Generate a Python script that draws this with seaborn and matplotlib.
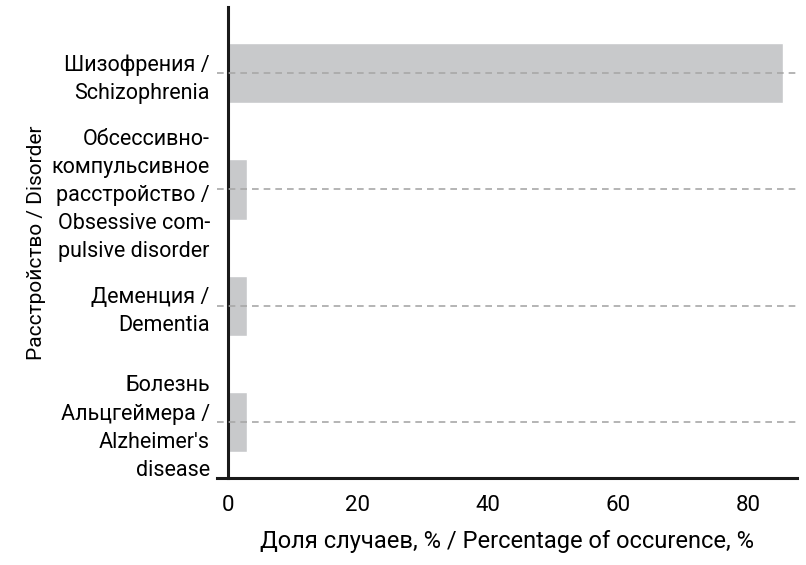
import pandas as pd
import matplotlib.pyplot as plt
import seaborn as sns

# data
disorders = [
    "Шизофрения /\nSchizophrenia",
    "Обсессивно-\nкомпульсивное\nрасстройство /\nObsessive com-\npulsive disorder",
    "Деменция /\nDementia",
    "Болезнь\nАльцгеймера /\nAlzheimer's\ndisease",
]
percent = [85.4, 3.0, 3.0, 3.0]
x_ticks = [0, 20, 40, 60, 80]

df = pd.DataFrame({"disorder": disorders, "percent": percent})

sns.set_style("white")
plt.rcParams['font.family'] = ['Roboto', 'DejaVu Sans']
plt.rcParams['text.color'] = 'black'
plt.rcParams['xtick.color'] = 'black'
plt.rcParams['ytick.color'] = 'black'
plt.rcParams['axes.labelcolor'] = 'black'

fig = plt.figure(figsize=(8.06, 5.65), dpi=100)
ax = fig.add_axes([0.269, 0.154, 0.720, 0.834])

sns.barplot(data=df, x="percent", y="disorder", color="#c8c9cb", saturation=1,
            width=0.52, ax=ax)

# dashed guides through each category
for i in range(len(disorders)):
    ax.axhline(i, color="#a8a8a8", ls=(0, (4, 3)), lw=1.2, zorder=3)

ax.set_xlim(-1.7, 87.5)
ax.set_ylim(3.48, -0.57)
ax.set_xticks(x_ticks)

ax.spines['left'].set_position(('data', 0))
ax.spines['top'].set_visible(False)
ax.spines['right'].set_visible(False)
for s in ['left', 'bottom']:
    ax.spines[s].set_linewidth(2.2)
    ax.spines[s].set_color("#1a1a1a")

ax.tick_params(axis='x', length=7, width=2.2, color="#1a1a1a", labelsize=16, pad=5)
ax.tick_params(axis='y', length=0, labelsize=15.5, pad=13)
for lbl in ax.get_yticklabels():
    lbl.set_horizontalalignment('right')
    lbl.set_linespacing(1.45)

ax.set_xlabel("Доля случаев, % / Percentage of occurence, %", fontsize=17, labelpad=10)
ax.set_ylabel("Расстройство / Disorder", fontsize=15, labelpad=4)

fig.savefig("out.png", dpi=100)
